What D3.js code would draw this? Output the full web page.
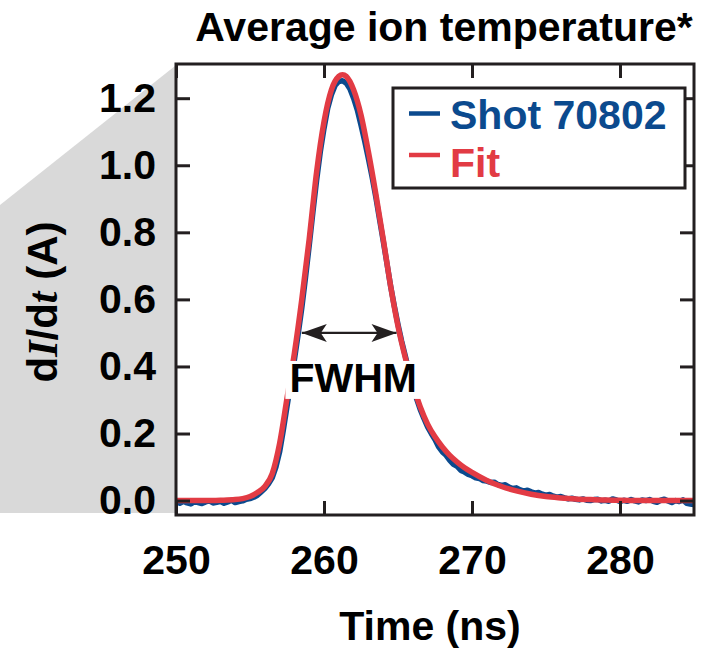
<!DOCTYPE html>
<html>
<head>
<meta charset="utf-8">
<script src="https://cdn.jsdelivr.net/npm/d3@7"></script>
<style>
  html, body { margin: 0; padding: 0; background: #ffffff; }
  svg { display: block; }
  text { font-family: "Liberation Sans", Arial, Helvetica, sans-serif; font-weight: bold; }
</style>
</head>
<body>
<svg id="chart" width="713" height="649"></svg>
<script>
// Measured dI/dt trace, sampled every 0.25 ns starting at 250 ns
const shotStart = 250;
const shotStep = 0.25;
const shotValues = [
  -0.004, -0.008, -0.002, -0.007, -0.010, -0.003, -0.006, -0.009,
  -0.004, -0.001, -0.007, -0.005, -0.002, -0.008, -0.004, 0.001,
  -0.006, -0.003, -0.001, 0.004,
  0.006, 0.010, 0.016, 0.026, 0.036, 0.050, 0.068, 0.100,
  0.145, 0.210, 0.280, 0.350, 0.420, 0.495, 0.575, 0.665,
  0.760, 0.860, 0.955, 1.040, 1.110, 1.170, 1.210, 1.238,
  1.250, 1.252, 1.245, 1.228, 1.200, 1.165, 1.120, 1.072,
  1.020, 0.965, 0.905, 0.840, 0.775, 0.708, 0.640, 0.580,
  0.525, 0.475, 0.430, 0.385,
  0.340, 0.305, 0.272, 0.245, 0.220, 0.200, 0.182, 0.160,
  0.145, 0.135, 0.120, 0.108, 0.102, 0.090, 0.085, 0.078,
  0.074, 0.068, 0.066, 0.060, 0.058, 0.054, 0.055, 0.048,
  0.045, 0.047, 0.040, 0.036, 0.038, 0.032, 0.028, 0.031,
  0.026, 0.022, 0.024, 0.019, 0.016, 0.018, 0.013, 0.010,
  0.012, 0.008, 0.005, 0.007, 0.004, 0.002, 0.005, 0.001,
  0.000, 0.003, 0.004, -0.001, 0.001, -0.002, 0.005, 0.002,
  -0.003, 0.001, -0.002, 0.003, -0.001, -0.004, 0.002, 0.000,
  0.003, -0.002, -0.005, 0.001, 0.004, -0.001, -0.006, 0.000,
  -0.003, 0.002, -0.008, -0.010, -0.012
];

// Fitted pulse shape
const fitTime = [250, 251, 252, 253, 254, 254.5, 255, 255.5, 256, 256.5, 257, 257.5,
  258, 258.5, 259, 259.5, 260, 260.5, 261, 261.25, 261.5, 262, 262.5, 263, 263.5,
  264, 264.5, 265, 265.5, 266, 266.5, 267, 267.5, 268, 268.5, 269, 269.5, 270,
  271, 272, 273, 274, 275, 276, 277, 278, 279, 280, 282, 285];
const fitValues = [0, 0, 0, 0.001, 0.003, 0.006, 0.012, 0.024, 0.042, 0.080, 0.170, 0.305,
  0.440, 0.600, 0.780, 0.980, 1.130, 1.225, 1.265, 1.270, 1.265, 1.225, 1.150, 1.040, 0.915,
  0.780, 0.640, 0.520, 0.425, 0.345, 0.280, 0.228, 0.190, 0.160, 0.135, 0.115, 0.098, 0.084,
  0.060, 0.042, 0.029, 0.019, 0.012, 0.008, 0.005, 0.003, 0.0015, 0.001, 0, 0];

// Axis ticks
const xTicks = [250, 260, 270, 280];
const yTicks = [0.0, 0.2, 0.4, 0.6, 0.8, 1.0, 1.2];

// Series labels
const seriesNames = ["Shot 70802", "Fit"];
const seriesColors = ["#0b4a8e", "#e23b44"];

// Full width at half maximum marker
const fwhmLevel = 0.5;
const fwhmStart = 258.5;
const fwhmEnd = 264.9;

const ink = "#231f20";
const fontSize = 41;

const svg = d3.select("#chart");
const plotLeft = 176, plotRight = 694, plotTop = 64, plotBottom = 515;

const x = d3.scaleLinear().domain([250, 285]).range([plotLeft, plotRight]);
const y = d3.scaleLinear().domain([-0.043, 1.302]).range([plotBottom, plotTop]);

// Grey wedge behind the y labels
svg.append("path")
  .attr("d", `M0,205 L${plotLeft - 1},66 L${plotLeft - 1},513 L0,513 Z`)
  .attr("fill", "#d9d9d9");

// Title
svg.append("text")
  .attr("x", 444).attr("y", 40.5)
  .attr("text-anchor", "middle")
  .attr("font-size", fontSize)
  .attr("fill", "#000")
  .text("Average ion temperature*");

// Plot area background
svg.append("rect")
  .attr("x", plotLeft).attr("y", plotTop)
  .attr("width", plotRight - plotLeft).attr("height", plotBottom - plotTop)
  .attr("fill", "#ffffff");

// Curves
const shotData = shotValues.map((v, i) => [shotStart + i * shotStep, v]);
const fitData = fitTime.map((t, i) => [t, fitValues[i]]);

const shotLine = d3.line().x(d => x(d[0])).y(d => y(d[1])).curve(d3.curveLinear);
const fitLine = d3.line().x(d => x(d[0])).y(d => y(d[1])).curve(d3.curveMonotoneX);

svg.append("path")
  .datum(shotData)
  .attr("d", shotLine)
  .attr("fill", "none")
  .attr("stroke", seriesColors[0])
  .attr("stroke-width", 5.5)
  .attr("stroke-linejoin", "round");

svg.append("path")
  .datum(fitData)
  .attr("d", fitLine)
  .attr("fill", "none")
  .attr("stroke", seriesColors[1])
  .attr("stroke-width", 5.5)
  .attr("stroke-linejoin", "round");

// FWHM annotation: double-headed arrow with the label below it
const defs = svg.append("defs");
defs.append("marker")
  .attr("id", "head")
  .attr("viewBox", "-26 -10 26 20")
  .attr("refX", 0).attr("refY", 0)
  .attr("markerUnits", "userSpaceOnUse")
  .attr("markerWidth", 26).attr("markerHeight", 20)
  .attr("orient", "auto-start-reverse")
  .append("path")
  .attr("d", "M0,0 L-25,-9 L-19,0 L-25,9 Z")
  .attr("fill", ink);

svg.append("line")
  .attr("x1", x(fwhmStart)).attr("x2", x(fwhmEnd))
  .attr("y1", y(fwhmLevel)).attr("y2", y(fwhmLevel))
  .attr("stroke", ink)
  .attr("stroke-width", 2.2)
  .attr("marker-start", "url(#head)")
  .attr("marker-end", "url(#head)");

const fwhmG = svg.append("g");
const fwhmText = fwhmG.append("text")
  .attr("x", (x(fwhmStart) + x(fwhmEnd)) / 2 + 4)
  .attr("y", y(fwhmLevel) + 59.5)
  .attr("text-anchor", "middle")
  .attr("font-size", fontSize)
  .attr("fill", "#000")
  .text("FWHM");
const fb = fwhmText.node().getBBox();
fwhmG.insert("rect", "text")
  .attr("x", fb.x - 4).attr("width", fb.width + 8)
  .attr("y", y(fwhmLevel) + 28).attr("height", 38)
  .attr("fill", "#ffffff");

// Axes: ticks on all four sides pointing inward
const tickLen = 14;
function styleAxis(g) {
  g.select(".domain").remove();
  g.selectAll(".tick line").attr("stroke", ink).attr("stroke-width", 3);
  g.selectAll(".tick text")
    .attr("fill", "#000")
    .attr("font-size", fontSize)
    .attr("font-family", "\"Liberation Sans\", Arial, sans-serif")
    .attr("font-weight", "bold");
}

svg.append("g")
  .attr("transform", `translate(0,${plotBottom})`)
  .call(d3.axisBottom(x).tickValues(xTicks).tickSize(-tickLen).tickPadding(29.5)
    .tickFormat(d3.format("d")))
  .call(styleAxis);

svg.append("g")
  .attr("transform", `translate(0,${plotTop})`)
  .call(d3.axisTop(x).tickValues(xTicks).tickSize(-tickLen).tickFormat(""))
  .call(styleAxis);

svg.append("g")
  .attr("transform", `translate(${plotLeft},0)`)
  .call(d3.axisLeft(y).tickValues(yTicks).tickSize(-tickLen).tickPadding(20)
    .tickFormat(d3.format(".1f")))
  .call(styleAxis);

svg.append("g")
  .attr("transform", `translate(${plotRight},0)`)
  .call(d3.axisRight(y).tickValues(yTicks).tickSize(-tickLen).tickFormat(""))
  .call(styleAxis);

// Frame
svg.append("rect")
  .attr("x", plotLeft).attr("y", plotTop)
  .attr("width", plotRight - plotLeft).attr("height", plotBottom - plotTop)
  .attr("fill", "none")
  .attr("stroke", ink)
  .attr("stroke-width", 3);

// Legend
const legend = svg.append("g");
legend.append("rect")
  .attr("x", 393).attr("y", 88)
  .attr("width", 292).attr("height", 100)
  .attr("fill", "#ffffff")
  .attr("stroke", ink)
  .attr("stroke-width", 3);
const legendRows = [113.5, 155];
seriesNames.forEach((name, i) => {
  legend.append("line")
    .attr("x1", 409).attr("x2", 440)
    .attr("y1", legendRows[i]).attr("y2", legendRows[i])
    .attr("stroke", seriesColors[i])
    .attr("stroke-width", 4.5);
  legend.append("text")
    .attr("x", 450).attr("y", legendRows[i] + 15.5 + (i === 1 ? 6 : 0))
    .attr("font-size", fontSize)
    .attr("fill", seriesColors[i])
    .text(name);
});

// Axis titles
svg.append("text")
  .attr("x", 430).attr("y", 640)
  .attr("text-anchor", "middle")
  .attr("font-size", fontSize)
  .attr("fill", "#000")
  .text("Time (ns)");

const yTitle = svg.append("text")
  .attr("transform", "translate(57,302) rotate(-90)")
  .attr("text-anchor", "middle")
  .attr("font-size", 42)
  .attr("fill", "#000");
yTitle.append("tspan").text("d");
yTitle.append("tspan")
  .attr("font-family", "\"Liberation Serif\", \"Times New Roman\", serif")
  .attr("font-style", "italic").text("I");
yTitle.append("tspan").text("/d");
yTitle.append("tspan")
  .attr("font-family", "\"Liberation Serif\", \"Times New Roman\", serif")
  .attr("font-style", "italic").text("t");
yTitle.append("tspan").text(" (A)");
</script>
</body>
</html>
